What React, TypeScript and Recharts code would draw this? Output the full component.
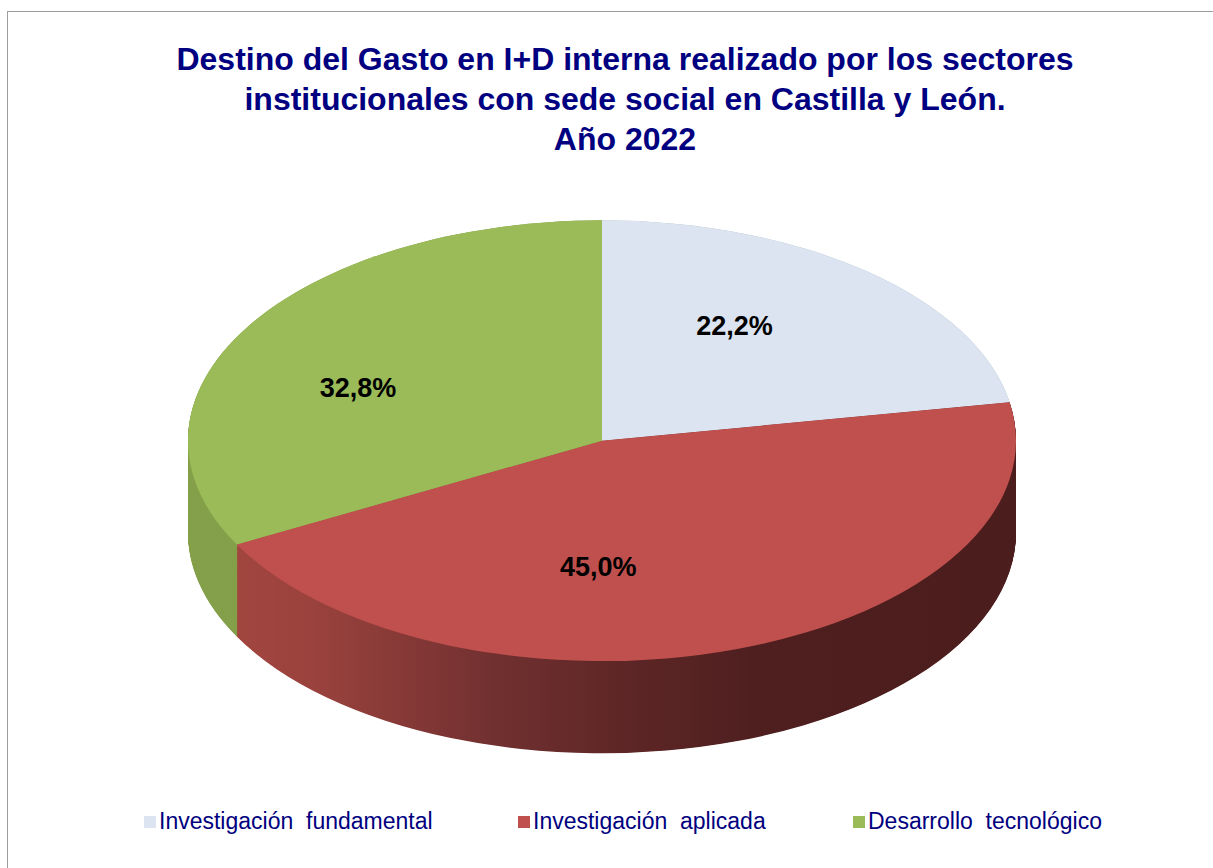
import { PieChart, Pie, Cell } from 'recharts';

// datos del gráfico
const categories = ['Investigación  fundamental', 'Investigación  aplicada', 'Desarrollo  tecnológico'];
const shares = [22.2, 45.0, 32.8];

const topColors = ['#dbe4f0', '#c0504d', '#9bbb59'];
const sideFills = ['#a9b6c6', 'url(#redSide)', '#85a04b'];

const data = categories.map((name, i) => ({ name, value: shares[i] }));

// 3D look: circle squashed vertically, extruded by stacking pies
const SQUASH = 0.5323;
const CX = 602;
const CY = 828;
const R = 414;
const DEPTH = 173;
const LAYERS = 144;

// label placement (fraction of radius + nudges in page px)
const LABEL_FRAC = 0.6;
const labelNudge = [
  [-27, -14],
  [-85, 0],
  [-31, 14],
];

const legendWidths = [374, 335, 'auto'];

const fmt = (v: number) => v.toFixed(1).replace('.', ',') + '%';

const renderLabel = (props: any) => {
  const { cx, cy, midAngle, outerRadius, index, value } = props;
  const rad = (-midAngle * Math.PI) / 180;
  const [nx, ny] = labelNudge[index] || [0, 0];
  const x = cx + LABEL_FRAC * outerRadius * Math.cos(rad) + nx;
  const y = cy + LABEL_FRAC * outerRadius * Math.sin(rad) + ny / SQUASH;
  return (
    <g transform={`translate(${x},${y}) scale(1,${1 / SQUASH})`}>
      <text
        x={0}
        y={10}
        textAnchor="middle"
        fill="#000"
        style={{ fontFamily: 'Arial, "Liberation Sans", sans-serif', fontWeight: 'bold', fontSize: 27 }}
      >
        {fmt(value)}
      </text>
    </g>
  );
};

export default function App() {
  const depths = Array.from({ length: LAYERS + 1 }, (_, i) => DEPTH - (i * DEPTH) / LAYERS);
  const font = 'Arial, "Liberation Sans", sans-serif';

  return (
    <div
      style={{
        position: 'absolute',
        left: 0,
        top: 0,
        width: 1213,
        height: 868,
        overflow: 'hidden',
        background: '#fff',
      }}
    >
      <div
        style={{
          position: 'absolute',
          left: 7,
          top: 11,
          width: 1400,
          height: 1000,
          border: '1px solid #9d9d9d',
        }}
      />
      <div
        style={{
          position: 'absolute',
          left: 0,
          top: 39,
          width: 1250,
          textAlign: 'center',
          fontFamily: font,
          fontWeight: 'bold',
          fontSize: 32,
          lineHeight: '40px',
          color: '#000080',
        }}
      >
        Destino del Gasto en I+D interna realizado por los sectores
        <br />
        institucionales con sede social en Castilla y León.
        <br />
        Año 2022
      </div>

      <div
        style={{
          position: 'absolute',
          left: 0,
          top: 0,
          transform: `scaleY(${SQUASH})`,
          transformOrigin: '0 0',
        }}
      >
        <PieChart width={1213} height={1440} margin={{ top: 0, right: 0, bottom: 0, left: 0 }}>
          <defs>
            <linearGradient id="redSide" x1="0" y1="0" x2="1" y2="0">
              <stop offset="0" stopColor="#a2453f" />
              <stop offset="0.1" stopColor="#9a423d" />
              <stop offset="0.33" stopColor="#713030" />
              <stop offset="0.5" stopColor="#5e2626" />
              <stop offset="0.66" stopColor="#4f1f1f" />
              <stop offset="1" stopColor="#4c1d1d" />
            </linearGradient>
          </defs>
          {depths.map((d, k) => (
            <Pie
              key={'side' + k}
              data={data}
              dataKey="value"
              cx={CX}
              cy={CY + d}
              outerRadius={R}
              startAngle={90}
              endAngle={-270}
              stroke="none"
              isAnimationActive={false}
              labelLine={false}
            >
              {data.map((_, i) => (
                <Cell key={i} fill={sideFills[i]} />
              ))}
            </Pie>
          ))}
          <Pie
            data={data}
            dataKey="value"
            cx={CX}
            cy={CY}
            outerRadius={R}
            startAngle={90}
            endAngle={-270}
            stroke="none"
            isAnimationActive={false}
            labelLine={false}
            label={renderLabel}
          >
            {data.map((_, i) => (
              <Cell key={i} fill={topColors[i]} />
            ))}
          </Pie>
        </PieChart>
      </div>

      <div
        style={{
          position: 'absolute',
          left: 144,
          top: 810,
          display: 'flex',
          fontFamily: font,
          fontSize: 23,
          lineHeight: '23px',
          color: '#00007f',
          whiteSpace: 'pre',
        }}
      >
        {categories.map((c, i) => (
          <div key={c} style={{ display: 'flex', alignItems: 'center', width: legendWidths[i] }}>
            <span style={{ width: 12, height: 12, background: topColors[i], marginRight: 3 }} />
            <span>{c}</span>
          </div>
        ))}
      </div>
    </div>
  );
}
